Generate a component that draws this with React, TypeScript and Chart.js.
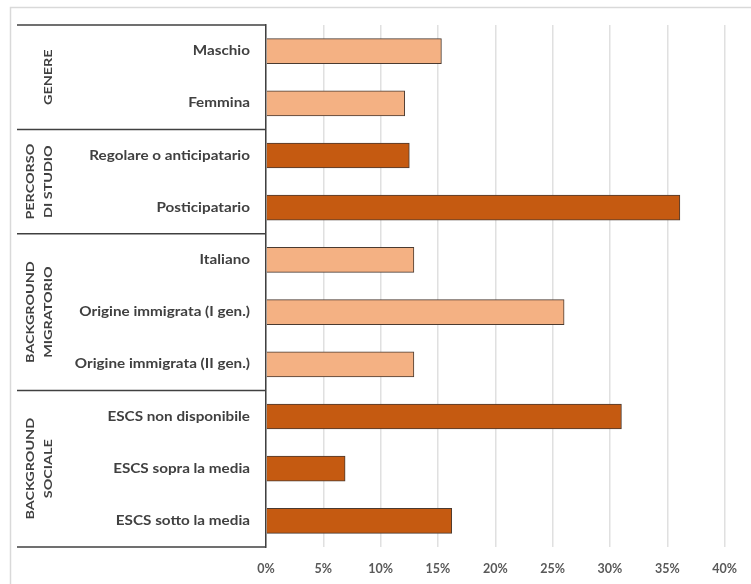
import React, { useEffect, useRef } from "react";
import { Chart, registerables } from "chart.js";

Chart.register(...registerables);

const categories = [
  "Maschio",
  "Femmina",
  "Regolare o anticipatario",
  "Posticipatario",
  "Italiano",
  "Origine immigrata (I gen.)",
  "Origine immigrata (II gen.)",
  "ESCS non disponibile",
  "ESCS sopra la media",
  "ESCS sotto la media",
];
const values = [15.3, 12.1, 12.5, 36.1, 12.9, 26.0, 12.9, 31.0, 6.9, 16.2];
const groupNames = [["GENERE"], ["PERCORSO", "DI STUDIO"], ["BACKGROUND", "MIGRATORIO"], ["BACKGROUND", "SOCIALE"]];
const groupSizes = [2, 2, 3, 3];
const groupColors = ["#F4B183", "#C55A11", "#F4B183", "#C55A11"];
const xTicks = [0, 5, 10, 15, 20, 25, 30, 35, 40];

const barColors: string[] = [];
groupSizes.forEach((n, g) => {
  for (let i = 0; i < n; i++) barColors.push(groupColors[g]);
});

const TEXT = "#404040";

const framePlugin = {
  id: "framePlugin",
  beforeDraw(chart: any) {
    const { ctx, width, height } = chart;
    ctx.save();
    ctx.fillStyle = "#ffffff";
    ctx.fillRect(0, 0, width, height);
    ctx.strokeStyle = "#d9d9d9";
    ctx.lineWidth = 1.5;
    ctx.beginPath();
    ctx.moveTo(10.5, height);
    ctx.lineTo(10.5, 7.5);
    ctx.lineTo(width, 7.5);
    ctx.stroke();
    ctx.restore();
  },
  afterDraw(chart: any) {
    const { ctx, chartArea } = chart;
    const y = chart.scales.y;
    const left = 17;
    const right = chartArea.left;
    const bounds: number[] = [chartArea.top];
    let idx = 0;
    groupSizes.forEach((n) => {
      idx += n;
      if (idx < categories.length) {
        const a = y.getPixelForValue(idx - 1);
        const b = y.getPixelForValue(idx);
        bounds.push((a + b) / 2);
      } else {
        bounds.push(chartArea.bottom);
      }
    });
    ctx.save();
    ctx.strokeStyle = TEXT;
    ctx.lineWidth = 1.5;
    bounds.forEach((by) => {
      ctx.beginPath();
      ctx.moveTo(left, by);
      ctx.lineTo(right, by);
      ctx.stroke();
    });
    ctx.fillStyle = TEXT;
    ctx.font = "bold 12.5px Lato";
    ctx.textAlign = "right";
    ctx.textBaseline = "middle";
    categories.forEach((c, i) => {
      const py = y.getPixelForValue(i);
      ctx.save();
      ctx.translate(chartArea.left - 16, py);
      ctx.scale(1.22, 1);
      ctx.fillText(c, 0, 0);
      ctx.restore();
    });
    ctx.font = "bold 11.5px Lato";
    ctx.textAlign = "center";
    groupNames.forEach((lines, g) => {
      const cy = (bounds[g] + bounds[g + 1]) / 2;
      const xs = lines.length === 1 ? [48] : [30, 48];
      lines.forEach((t, k) => {
        ctx.save();
        ctx.translate(xs[k], cy);
        ctx.rotate(-Math.PI / 2);
        ctx.scale(1.25, 1);
        ctx.fillText(t, 0, 0);
        ctx.restore();
      });
    });
    ctx.restore();
  },
};

export default function App() {
  const ref = useRef<HTMLCanvasElement>(null);
  useEffect(() => {
    const chart = new Chart(ref.current as HTMLCanvasElement, {
      type: "bar",
      data: {
        labels: categories,
        datasets: [
          {
            data: values,
            backgroundColor: barColors,
            borderColor: "#4a3a30",
            borderWidth: 1,
            barThickness: 25,
          },
        ],
      },
      options: {
        indexAxis: "y",
        animation: false,
        responsive: true,
        maintainAspectRatio: false,
        layout: { padding: { left: 0, top: 25, right: 24, bottom: 0 } },
        plugins: { legend: { display: false }, tooltip: { enabled: false } },
        scales: {
          x: {
            min: 0,
            max: 40,
            afterBuildTicks: (s: any) => {
              s.ticks = xTicks.map((v) => ({ value: v }));
            },
            afterFit: (s: any) => {
              s.height = 37;
            },
            grid: { color: "#e0e0e0", lineWidth: 1.5, drawTicks: false },
            border: { display: false },
            ticks: {
              padding: 14,
              color: "#595959",
              font: { family: "Lato", size: 12.5, weight: "bold" },
              callback: (v: any) => v + "%",
            },
          },
          y: {
            afterFit: (s: any) => {
              s.width = 266;
            },
            grid: { display: false, drawTicks: false },
            border: { display: true, color: TEXT, width: 1.5 },
            ticks: { display: false },
          },
        },
      },
      plugins: [framePlugin],
    });
    return () => chart.destroy();
  }, []);
  return (
    <div style={{ position: "fixed", left: 0, top: 0, width: 751, height: 584 }}>
      <canvas ref={ref} />
    </div>
  );
}
